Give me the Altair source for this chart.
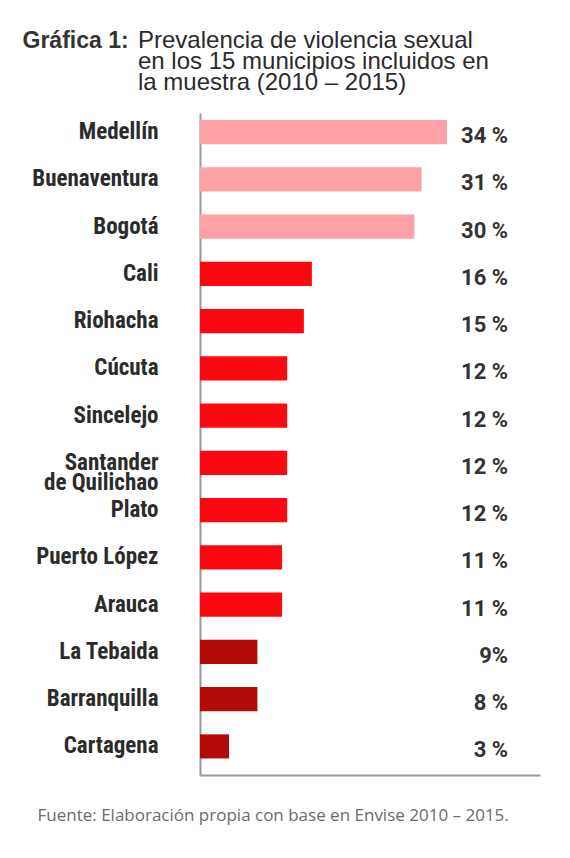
import altair as alt
import pandas as pd

municipios = ["Medellín", "Buenaventura", "Bogotá", "Cali", "Riohacha", "Cúcuta",
              "Sincelejo", "Santander|de Quilichao", "Plato", "Puerto López",
              "Arauca", "La Tebaida", "Barranquilla", "Cartagena"]
bar_values = [34, 30.5, 29.5, 15.4, 14.3, 12, 12, 12, 12, 11.3, 11.3, 7.9, 7.9, 4.0]
value_labels = ["34 %", "31 %", "30 %", "16 %", "15 %", "12 %", "12 %", "12 %",
                "12 %", "11 %", "11 %", "9%", "8 %", "3 %"]
grupos = ["alto"] * 3 + ["medio"] * 8 + ["bajo"] * 3
grupo_dominio = ["alto", "medio", "bajo"]
grupo_colores = ["#FF9FA6", "#FF0711", "#B30A0A"]

titulo = ["Prevalencia de violencia sexual",
          "en los 15 municipios incluidos en",
          "la muestra  (2010 – 2015)"]
etiqueta = "Gráfica 1:"
fuente = "Fuente: Elaboración propia con base en Envise 2010 – 2015."

X_MAX = 46.8
LABEL_X = 42.4

df = pd.DataFrame({"municipio": municipios, "valor": bar_values,
                   "texto": value_labels, "grupo": grupos})

COND = "Liberation Sans Narrow, Arial Narrow, Roboto Condensed, Roboto, sans-serif"
SANS = "Liberation Sans, Arial, Roboto, sans-serif"

y_enc = alt.Y(
    "municipio:N", sort=municipios,
    scale=alt.Scale(paddingInner=0.49, paddingOuter=0.25, align=0.3),
    axis=alt.Axis(
        title=etiqueta, titleAngle=0, titleAlign="left", titleBaseline="alphabetic",
        titleX=-178, titleY=-66, titleFont=SANS, titleFontSize=23,
        titleFontWeight="bold", titleColor="#333333",
        labelExpr="split(datum.label, '|')", labelFont=COND, labelFontSize=23,
        labelFontWeight="bold", labelColor="#2b2b2b", labelPadding=42,
        labelLineHeight=20, ticks=False, domainColor="#9a9a9a", domainWidth=2,
        grid=False, labelLimit=300,
    ),
)

x_enc = alt.X(
    "valor:Q", scale=alt.Scale(domain=[0, X_MAX], nice=False, zero=True),
    axis=alt.Axis(
        title=fuente, labels=False, ticks=False, grid=False,
        domainColor="#9a9a9a", domainWidth=2,
        titleAnchor="start", titleAlign="left", titleBaseline="alphabetic",
        titleX=-163, titleY=45, titleFont="Open Sans, Lato, sans-serif",
        titleFontSize=17, titleFontWeight="normal", titleColor="#6b6b6b",
    ),
)

bars = alt.Chart(df).mark_bar().encode(
    x=x_enc, y=y_enc,
    color=alt.Color("grupo:N", scale=alt.Scale(domain=grupo_dominio, range=grupo_colores),
                    legend=None),
)

labels = alt.Chart(df).mark_text(
    align="right", baseline="alphabetic", dy=11, font="Roboto, Liberation Sans, sans-serif",
    fontSize=22, fontWeight="bold", color="#333333",
).encode(
    x=alt.datum(LABEL_X),
    y=alt.Y("municipio:N", sort=municipios),
    text="texto:N",
)

chart = alt.layer(bars, labels).properties(
    width=340, height=662,
    title=alt.TitleParams(
        text=titulo, anchor="start", frame="group", dx=-62, dy=76, font=SANS,
        fontSize=24, fontWeight="normal", lineHeight=21, color="#2b2b2b",
        offset=10,
    ),
    autosize=alt.AutoSizeParams(type="none"),
    padding={"left": 192, "top": 105, "right": 22, "bottom": 60},
).configure(background="white").configure_view(stroke=None)

chart.save("out.html", embed_options={"renderer": "svg", "actions": False})
